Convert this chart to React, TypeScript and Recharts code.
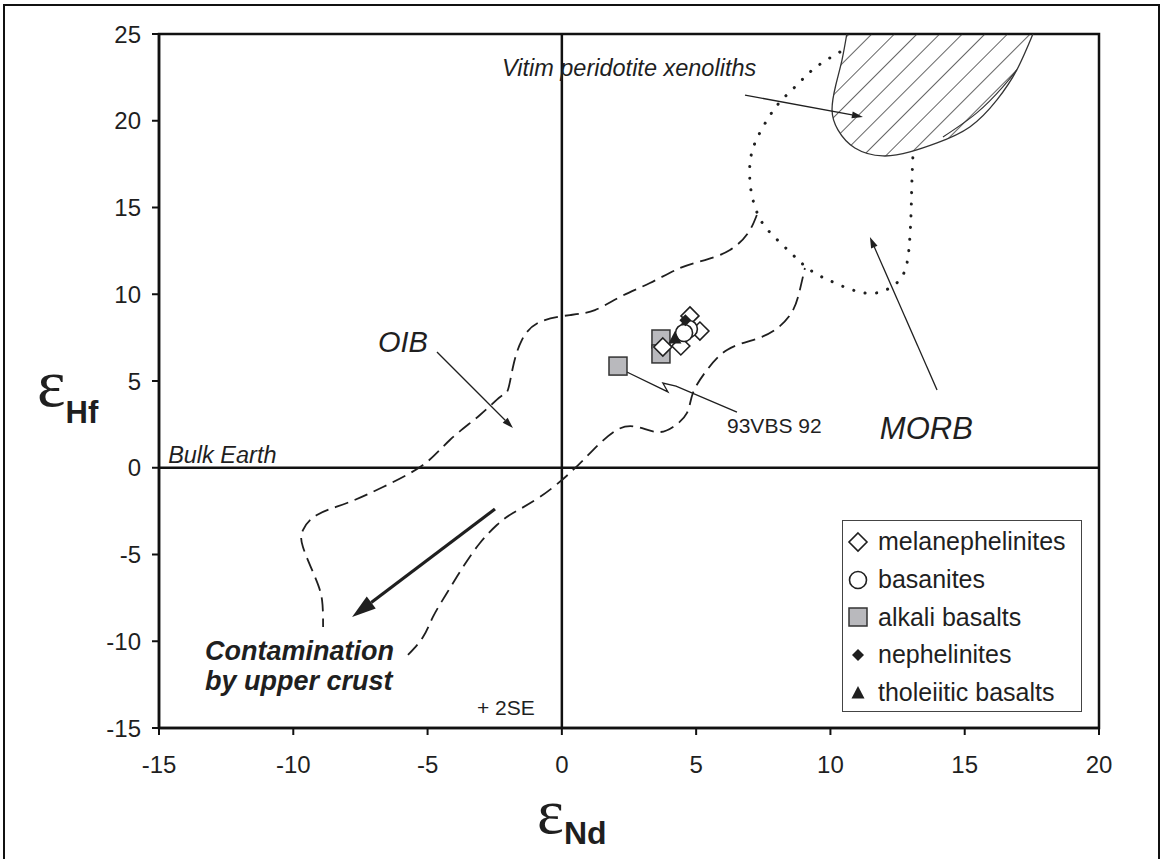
import React from 'react';
import {
  ComposedChart,
  XAxis,
  YAxis,
  Scatter,
  Line,
  Area,
  ReferenceLine,
  ReferenceArea,
  ReferenceDot,
  Legend,
} from 'recharts';

const X_TICKS = [-15, -10, -5, 0, 5, 10, 15, 20];
const Y_TICKS = [-15, -10, -5, 0, 5, 10, 15, 20, 25];

// samples (eNd, eHf)
const melanephelinites = [
  { x: 3.76, y: 6.96 },
  { x: 4.43, y: 7.02 },
  { x: 5.14, y: 7.88 },
  { x: 4.77, y: 8.75 },
];
const basanites = [
  { x: 4.73, y: 8.0 },
  { x: 4.55, y: 7.77 },
];
const alkaliBasalts = [
  { x: 2.09, y: 5.86 },
  { x: 3.69, y: 7.42 },
  { x: 3.69, y: 6.56 },
];
const nephelinites = [{ x: 4.6, y: 8.5 }];
const tholeiiticBasalts = [{ x: 4.21, y: 7.48 }];

// field outlines
const oibUpper = [
  { x: 7.26, y: 14.57 }, { x: 6.93, y: 13.53 }, { x: 6.26, y: 12.55 }, { x: 5.33, y: 11.97 },
  { x: 4.4, y: 11.51 }, { x: 3.28, y: 10.65 }, { x: 2.16, y: 9.84 }, { x: 1.23, y: 9.09 },
  { x: 0.3, y: 8.8 }, { x: -0.82, y: 8.4 }, { x: -1.49, y: 7.36 }, { x: -1.82, y: 5.81 },
  { x: -2.01, y: 4.48 }, { x: -2.3, y: 4.08 }, { x: -3.05, y: 3.04 }, { x: -4.17, y: 1.6 },
  { x: -5.17, y: 0.16 }, { x: -6.66, y: -1.11 }, { x: -8.0, y: -2.03 }, { x: -9.12, y: -2.72 },
  { x: -9.64, y: -3.59 }, { x: -9.64, y: -4.57 }, { x: -9.19, y: -6.3 }, { x: -8.93, y: -7.62 },
  { x: -8.89, y: -9.18 },
];
const oibLower = [
  { x: -5.73, y: -10.79 }, { x: -5.17, y: -9.76 }, { x: -4.8, y: -8.6 }, { x: -4.28, y: -7.22 },
  { x: -3.68, y: -5.72 }, { x: -3.05, y: -4.34 }, { x: -2.42, y: -3.3 }, { x: -1.82, y: -2.61 },
  { x: -0.82, y: -1.69 }, { x: 0.3, y: -0.3 }, { x: 1.16, y: 1.02 }, { x: 2.05, y: 2.18 },
  { x: 2.8, y: 2.35 }, { x: 3.54, y: 2.06 }, { x: 4.14, y: 2.35 }, { x: 4.66, y: 3.16 },
  { x: 4.88, y: 4.31 }, { x: 5.4, y: 5.63 }, { x: 6.15, y: 6.79 }, { x: 7.11, y: 7.36 },
  { x: 7.93, y: 7.94 }, { x: 8.57, y: 8.98 }, { x: 8.86, y: 10.24 }, { x: 9.05, y: 11.51 },
];
const morbOutline = [
  { x: 10.35, y: 23.96 }, { x: 9.42, y: 23.04 }, { x: 8.75, y: 22.06 }, { x: 8.12, y: 21.08 },
  { x: 7.64, y: 20.04 }, { x: 7.19, y: 18.72 }, { x: 7.0, y: 17.45 }, { x: 7.04, y: 16.01 },
  { x: 7.26, y: 14.74 }, { x: 7.67, y: 13.7 }, { x: 8.49, y: 12.44 }, { x: 9.24, y: 11.4 },
  { x: 10.17, y: 10.65 }, { x: 11.28, y: 10.07 }, { x: 12.14, y: 10.3 }, { x: 12.7, y: 11.11 },
  { x: 12.92, y: 12.55 }, { x: 13.0, y: 14.57 }, { x: 13.03, y: 16.3 }, { x: 13.07, y: 17.91 },
];
const vitimField = [
  { x: 10.61, y: 25 }, { x: 10.43, y: 23.5 }, { x: 10.2, y: 22.06 }, { x: 10.06, y: 20.62 },
  { x: 10.28, y: 19.47 }, { x: 10.91, y: 18.43 }, { x: 11.95, y: 17.97 }, { x: 12.96, y: 18.2 },
  { x: 13.97, y: 18.72 }, { x: 15.19, y: 19.64 }, { x: 16.2, y: 21.2 }, { x: 16.94, y: 22.93 },
  { x: 17.54, y: 25 },
];
const vitimInner = [
  { x: 14.19, y: 19.06 }, { x: 15.45, y: 20.45 }, { x: 16.42, y: 21.95 }, { x: 16.94, y: 22.93 },
];
const leader93VBS = [
  { x: 2.42, y: 5.52 }, { x: 3.95, y: 4.37 }, { x: 3.76, y: 4.88 }, { x: 4.25, y: 4.71 }, { x: 6.52, y: 3.21 },
];

const ARROWS = [
  { from: { x: 6.82, y: 21.48 }, to: { x: 11.21, y: 20.22 }, heavy: false },
  { from: { x: -4.65, y: 6.67 }, to: { x: -1.82, y: 2.29 }, heavy: false },
  { from: { x: 13.97, y: 4.48 }, to: { x: 11.47, y: 13.3 }, heavy: false },
  { from: { x: -2.49, y: -2.38 }, to: { x: -7.81, y: -8.6 }, heavy: true },
];

const NOTES = [
  { text: 'Vitim peridotite xenoliths', x: -2.23, y: 22.58, size: 23.5, italic: true, bold: false },
  { text: 'OIB', x: -6.85, y: 6.67, size: 29, italic: true, bold: false },
  { text: 'MORB', x: 11.84, y: 1.66, size: 31, italic: true, bold: false },
  { text: 'Bulk Earth', x: -14.66, y: 0.27, size: 23.5, italic: true, bold: false },
  { text: '93VBS 92', x: 6.15, y: 2.0, size: 21, italic: false, bold: false },
  { text: 'Contamination', x: -13.29, y: -11.08, size: 27, italic: true, bold: true },
  { text: 'by upper crust', x: -13.29, y: -12.81, size: 27, italic: true, bold: true },
  { text: '+ 2SE', x: -3.16, y: -14.25, size: 21, italic: false, bold: false },
];

const LEGEND_ORDER = ['melanephelinites', 'basanites', 'alkali basalts', 'nephelinites', 'tholeiitic basalts'];

const INK = '#1f1f1f';
const SANS = '"Liberation Sans", Arial, sans-serif';

function Marker({ kind, cx, cy }: { kind: string; cx: number; cy: number }) {
  if (kind === 'melanephelinites') {
    const s = 9;
    return <path d={`M${cx},${cy - s}L${cx + s},${cy}L${cx},${cy + s}L${cx - s},${cy}Z`} fill="#fff" stroke={INK} strokeWidth={1.6} />;
  }
  if (kind === 'basanites') {
    return <circle cx={cx} cy={cy} r={8.5} fill="#fff" stroke={INK} strokeWidth={1.6} />;
  }
  if (kind === 'alkali basalts') {
    return <rect x={cx - 9} y={cy - 9} width={18} height={18} fill="#b9b9bd" stroke="#333" strokeWidth={1.5} />;
  }
  if (kind === 'nephelinites') {
    const s = 6;
    return <path d={`M${cx},${cy - s}L${cx + s},${cy}L${cx},${cy + s}L${cx - s},${cy}Z`} fill={INK} />;
  }
  return <path d={`M${cx},${cy - 7}L${cx + 6.5},${cy + 5.5}L${cx - 6.5},${cy + 5.5}Z`} fill={INK} />;
}

const arrowShape = (heavy: boolean) => (p: any) => {
  const { x1, y1, x2, y2 } = p;
  const head = heavy ? 24 : 11;
  const wid = heavy ? 15 : 7;
  const a = Math.atan2(y2 - y1, x2 - x1);
  const bx = x2 - head * Math.cos(a);
  const by = y2 - head * Math.sin(a);
  const nx = (-Math.sin(a) * wid) / 2;
  const ny = (Math.cos(a) * wid) / 2;
  return (
    <g>
      <line x1={x1} y1={y1} x2={bx} y2={by} stroke={INK} strokeWidth={heavy ? 3.2 : 1.3} />
      <polygon points={`${x2},${y2} ${bx + nx},${by + ny} ${bx - nx},${by - ny}`} fill={INK} />
    </g>
  );
};

function renderLegend() {
  return (
    <div
      style={{
        width: 240,
        height: 192,
        boxSizing: 'border-box',
        border: '1.5px solid #444',
        background: '#fff',
        paddingTop: 2,
      }}
    >
      {LEGEND_ORDER.map((name) => (
        <div key={name} style={{ display: 'flex', alignItems: 'center', height: 37.7 }}>
          <svg width={32} height={30} style={{ flex: 'none' }}>
            <Marker kind={name} cx={15} cy={15} />
          </svg>
          <span style={{ fontFamily: SANS, fontSize: 25, color: INK, marginLeft: 3, whiteSpace: 'nowrap' }}>{name}</span>
        </div>
      ))}
    </div>
  );
}

const SERIES = [
  { name: 'alkali basalts', data: alkaliBasalts },
  { name: 'melanephelinites', data: melanephelinites },
  { name: 'basanites', data: basanites },
  { name: 'tholeiitic basalts', data: tholeiiticBasalts },
  { name: 'nephelinites', data: nephelinites },
];

const tickStyle = { fontFamily: SANS, fontSize: 24, fill: INK };

export default function App() {
  return (
    <div style={{ position: 'absolute', left: 0, top: 0, width: 1164, height: 859, background: '#fff', overflow: 'hidden' }}>
      <svg width={0} height={0} style={{ position: 'absolute' }}>
        <defs>
          <pattern id="hatch" patternUnits="userSpaceOnUse" width={16} height={16} patternTransform="rotate(45)">
            <line x1={0} y1={0} x2={0} y2={16} stroke="#222" strokeWidth={1.4} />
          </pattern>
        </defs>
      </svg>
      <div
        style={{
          position: 'absolute',
          left: 3,
          top: 4,
          width: 1153,
          height: 900,
          border: '2.5px solid #111',
        }}
      />
      <ComposedChart width={1164} height={859} margin={{ top: 34, right: 65, bottom: 91, left: 99 }}>
        <XAxis
          type="number"
          dataKey="x"
          domain={[-15, 20]}
          ticks={X_TICKS}
          allowDataOverflow
          height={40}
          tick={tickStyle}
          tickSize={7}
          tickMargin={21}
          axisLine={{ stroke: '#111', strokeWidth: 2.5 }}
          tickLine={{ stroke: '#111', strokeWidth: 2 }}
          label={(props: any) => {
            const vb = props.viewBox;
            return (
              <text x={vb.x + 378} y={vb.y + 105} fill={INK}>
                <tspan fontFamily='"Liberation Serif", serif' fontSize={64}>ε</tspan>
                <tspan fontFamily={SANS} fontWeight="bold" fontSize={32} dy={11}>Nd</tspan>
              </text>
            );
          }}
        />
        <YAxis
          type="number"
          dataKey="y"
          domain={[-15, 25]}
          ticks={Y_TICKS}
          allowDataOverflow
          width={60}
          tick={tickStyle}
          tickSize={7}
          tickMargin={11}
          axisLine={{ stroke: '#111', strokeWidth: 2.5 }}
          tickLine={{ stroke: '#111', strokeWidth: 2 }}
          label={(props: any) => {
            const vb = props.viewBox;
            return (
              <text x={vb.x - 62} y={vb.y + 372} fill={INK}>
                <tspan fontFamily='"Liberation Serif", serif' fontSize={68}>ε</tspan>
                <tspan fontFamily={SANS} fontWeight="bold" fontSize={31} dy={17}>Hf</tspan>
              </text>
            );
          }}
        />
        <ReferenceArea x1={-15} x2={20} y1={-15} y2={25} fill="none" stroke="#111" strokeWidth={2.5} />
        <ReferenceLine x={0} stroke="#111" strokeWidth={2.5} />
        <ReferenceLine y={0} stroke="#111" strokeWidth={2.5} />

        <Area
          data={vitimField}
          dataKey="y"
          type="natural"
          baseValue={25}
          fill="url(#hatch)"
          fillOpacity={1}
          stroke="#333"
          strokeWidth={1.3}
          dot={false}
          activeDot={false}
          legendType="none"
          isAnimationActive={false}
        />
        <Line data={vitimInner} dataKey="y" type="natural" stroke="#333" strokeWidth={1.1} dot={false} activeDot={false} legendType="none" isAnimationActive={false} />
        <Line
          data={morbOutline}
          dataKey="y"
          type="natural"
          stroke={INK}
          strokeWidth={3}
          strokeLinecap="round"
          strokeDasharray="0.1 11.5"
          dot={false}
          activeDot={false}
          legendType="none"
          isAnimationActive={false}
        />
        <Line data={oibUpper} dataKey="y" type="natural" stroke={INK} strokeWidth={1.8} strokeDasharray="14 7" dot={false} activeDot={false} legendType="none" isAnimationActive={false} />
        <Line data={oibLower} dataKey="y" type="natural" stroke={INK} strokeWidth={1.8} strokeDasharray="14 7" dot={false} activeDot={false} legendType="none" isAnimationActive={false} />
        <Line data={leader93VBS} dataKey="y" type="linear" stroke={INK} strokeWidth={1.3} dot={false} activeDot={false} legendType="none" isAnimationActive={false} />

        {ARROWS.map((a, i) => (
          <ReferenceLine key={`arrow-${i}`} segment={[a.from, a.to]} shape={arrowShape(a.heavy)} />
        ))}

        {NOTES.map((n) => (
          <ReferenceDot
            key={n.text}
            x={n.x}
            y={n.y}
            r={0}
            shape={(p: any) => (
              <text
                x={p.cx}
                y={p.cy}
                fontFamily={SANS}
                fontSize={n.size}
                fontStyle={n.italic ? 'italic' : 'normal'}
                fontWeight={n.bold ? 'bold' : 'normal'}
                fill={INK}
              >
                {n.text}
              </text>
            )}
          />
        ))}

        {SERIES.map((s) => (
          <Scatter
            key={s.name}
            name={s.name}
            data={s.data}
            isAnimationActive={false}
            shape={(p: any) => <Marker kind={s.name} cx={p.cx} cy={p.cy} />}
          />
        ))}

        <Legend
          layout="vertical"
          align="center"
          verticalAlign="middle"
          content={renderLegend}
          wrapperStyle={{ left: 842, top: 520, width: 240, height: 192 }}
        />
      </ComposedChart>
    </div>
  );
}
